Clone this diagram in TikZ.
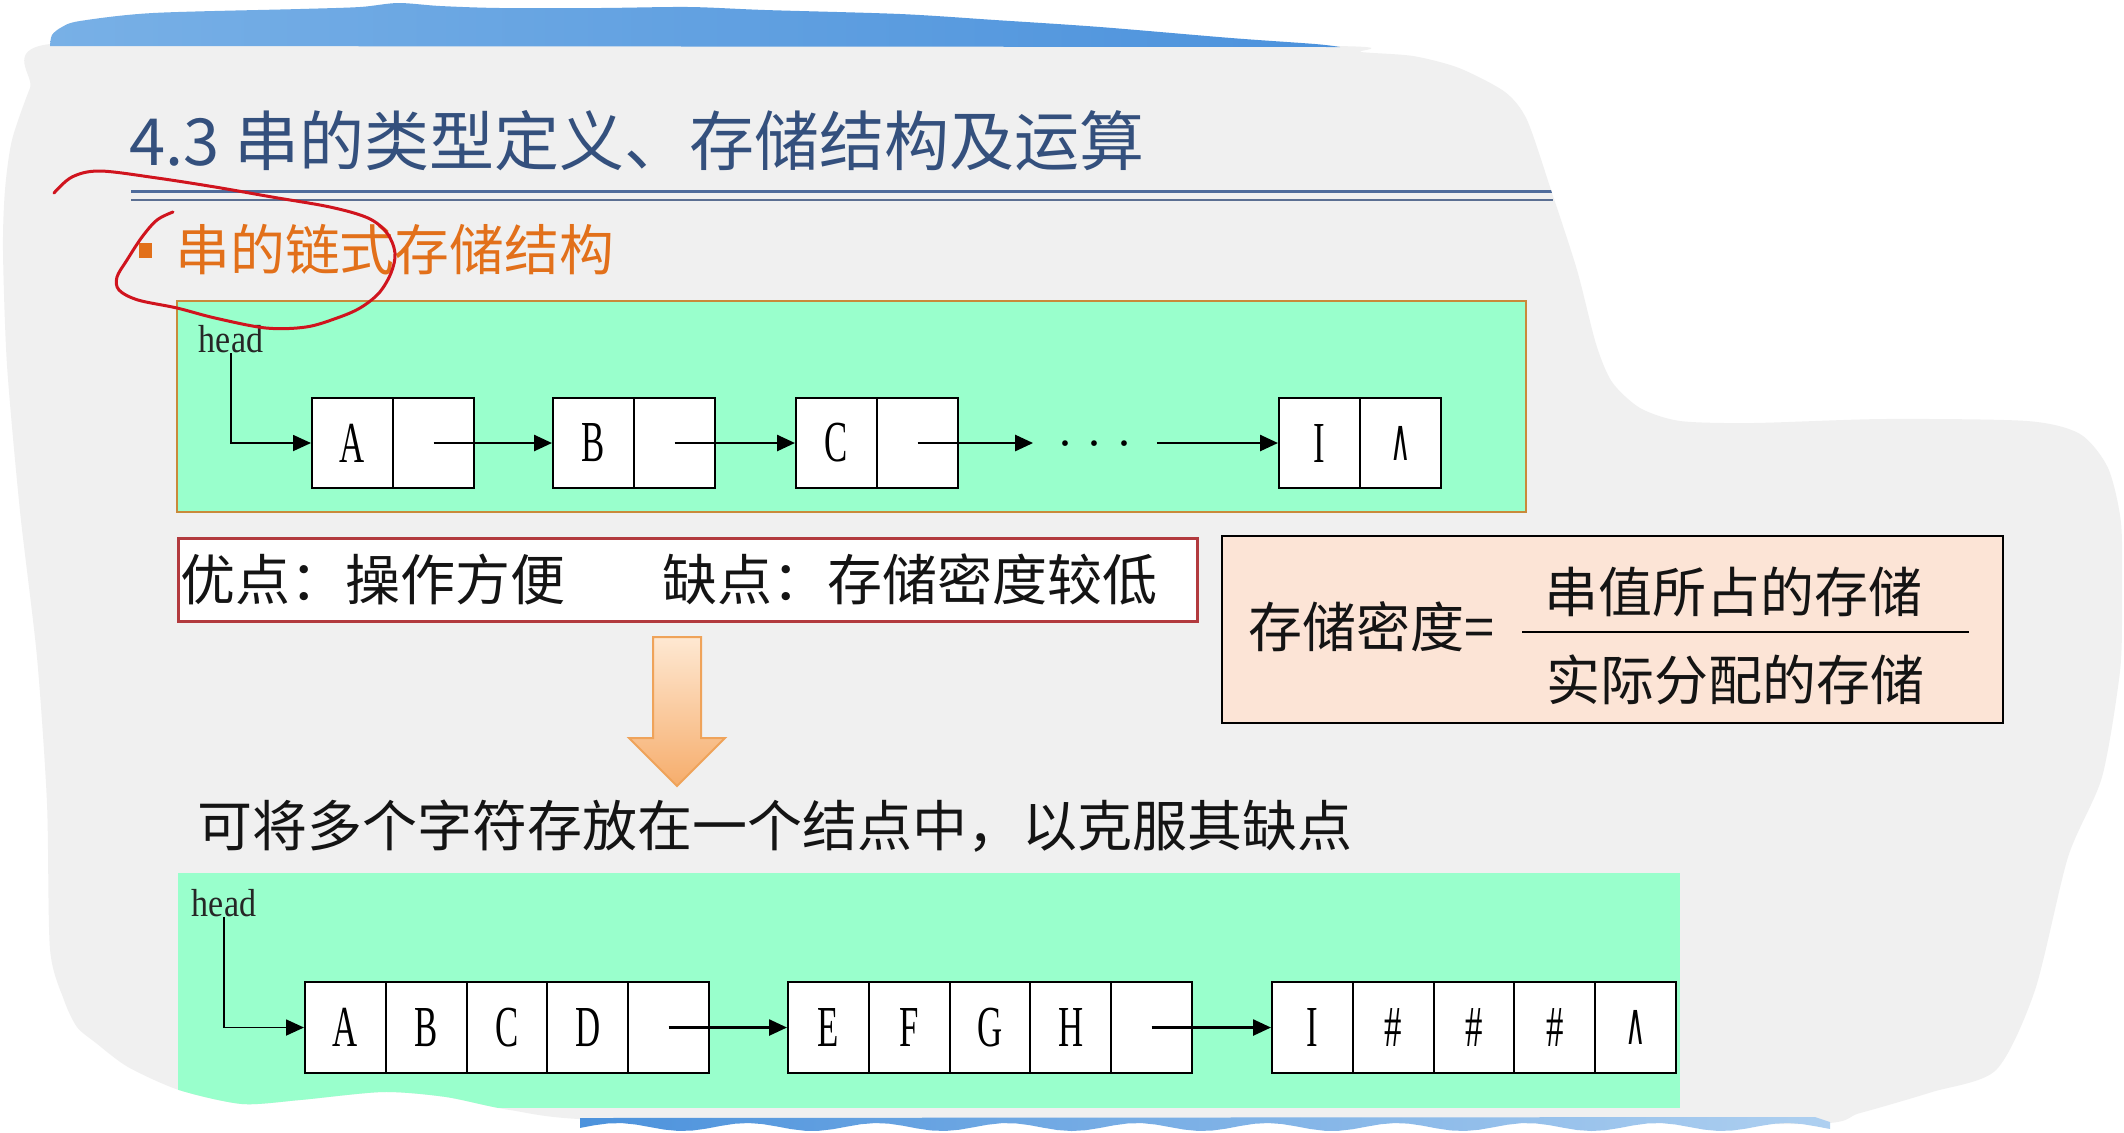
\documentclass[tikz,border=0pt]{standalone}
\usepackage{fontspec}
\usepackage{graphicx}
\usetikzlibrary{arrows.meta}
\newfontfamily\cjk{Noto Sans CJK SC}
\newfontfamily\tms{Liberation Serif}
\newfontfamily\djv{DejaVu Sans}
\definecolor{slidegray}{HTML}{F0F0F0}
\definecolor{mint}{HTML}{99FFCC}
\definecolor{titleblue}{HTML}{34507D}
\definecolor{headorange}{HTML}{E2701A}
\definecolor{loopred}{HTML}{D0141E}
\definecolor{boxborder}{HTML}{C98A3A}
\definecolor{prosred}{HTML}{B23A3E}
\definecolor{peach}{HTML}{FCE4D6}
\definecolor{bandL}{HTML}{78B0E6}
\definecolor{bandR}{HTML}{4C92DC}
\definecolor{rule1}{HTML}{4F6C9C}
\definecolor{rule2}{HTML}{5B6F92}
\definecolor{arrowfillT}{HTML}{FEE8D2}
\definecolor{arrowfillB}{HTML}{F6AD6C}
\definecolor{arrowedge}{HTML}{EFA35A}
\newcommand\celltxt[1]{\scalebox{0.6}[1]{\tms\fontsize{29pt}{29pt}\selectfont #1}}
\newcommand\nulltxt{\scalebox{0.5}[1.05]{\djv\fontsize{28pt}{28pt}\selectfont ∧}}
\begin{document}
\begin{tikzpicture}[x=0.5pt,y=-0.5pt,
  cellA/.style={draw=black,line width=1pt,fill=white,minimum width=40.5pt,minimum height=45pt,inner sep=0pt},
  cellB/.style={cellA,minimum width=40.4pt,minimum height=45.5pt},
  arr/.style={line width=1.3pt,-{Triangle[length=9pt,width=8pt]}},
  headarr/.style={line width=0.9pt,-{Triangle[length=9pt,width=8pt]}},
  headtxt/.style={font=\tms\fontsize{17pt}{17pt}\selectfont,text=black!85,inner sep=0pt},
  cjktxt/.style={font=\cjk\fontsize{27.5pt}{27.5pt}\selectfont,inner sep=0pt,anchor=west,text=black!92}]
\useasboundingbox (0,0) rectangle (2124,1132);
\fill[white] (0,0) rectangle (2124,1132);
\begin{scope}
\clip plot[smooth cycle,tension=0.45] coordinates {(50,44) (400,44) (800,44) (1335,46) (1361,52) (1413,56) (1459,68) (1505,92) (1527,120) (1551,190) (1577,270) (1596,344) (1612,382) (1640,408) (1680,421) (1753,423) (1884,419) (2027,421) (2080,434) (2108,468) (2121,523) (2122,600) (2120,671) (2102,777) (2068,857) (2035,990) (1996,1070) (1932,1092) (1860,1113) (1810,1124) (1500,1121) (1000,1121) (606,1120) (510,1110) (446,1097) (383,1092) (300,1100) (242,1104) (179,1090) (128,1067) (96,1043) (77,1027) (64,1000) (50,949) (47,803) (37,657) (20,511) (7,365) (3,250) (5,190) (12,140) (30,88)};
\fill[slidegray] (0,0) rectangle (2124,1132);
% title
\node[font=\cjk\fontsize{32.5pt}{32.5pt}\selectfont,text=titleblue,inner sep=0pt,anchor=west] (title) at (129,141) {4.3 串的类型定义、存储结构及运算};
\draw[rule1,line width=1.5pt] (131,191) -- (1553,191);
\draw[rule2,line width=0.7pt] (131,200) -- (1553,200);
% heading
\node[fill=headorange,minimum width=6.5pt,minimum height=7.5pt,inner sep=0pt] (bullet) at (145,250) {};
\node[font=\cjk\fontsize{27.4pt}{27.4pt}\selectfont,text=headorange,inner sep=0pt,anchor=west] (heading) at (175,250) {串的链式存储结构};
% green box 1
\filldraw[fill=mint,draw=boxborder,line width=1pt] (177,301) rectangle (1526,512);
\node[headtxt] (h1) at (231,339) {\scalebox{1}[1.15]{head}};
\node[cellA] (a1) at (352.5,443) {\celltxt{A}};
\node[cellA] (a2) at (433.5,443) {};
\node[cellA] (b1) at (593.5,443) {\celltxt{B}};
\node[cellA] (b2) at (674.5,443) {};
\node[cellA] (c1) at (836.5,443) {\celltxt{C}};
\node[cellA] (c2) at (917.5,443) {};
\node[cellA] (i1) at (1319.5,443) {\celltxt{I}};
\node[cellA] (i2) at (1400.5,443) {\nulltxt};
\node[inner sep=0pt,minimum width=61.5pt,minimum height=10pt,font=\tms\fontsize{24pt}{24pt}\selectfont] (dots) at (1095,443) {\raisebox{-8pt}[0pt][0pt]{·\hspace{7pt}·\hspace{7pt}·}\hspace{8pt}};
\draw[headarr] (h1.south) |- (a1.west);
\draw[arr] (a2.center) -- (b1.west);
\draw[arr] (b2.center) -- (c1.west);
\draw[arr] (c2.center) -- (dots.west);
\draw[arr] (dots.east) -- (i1.west);
% pros / cons
\draw[prosred,fill=white,line width=1.5pt] (178,538) rectangle (1197,621);
\node[cjktxt] (pros) at (180,579) {优点：操作方便};
\node[cjktxt] (cons) at (662,579) {缺点：存储密度较低};
% formula
\filldraw[fill=peach,draw=black,line width=1.2pt] (1222,536) rectangle (2003,723);
\node[cjktxt,font=\cjk\fontsize{27pt}{27pt}\selectfont] (lhs) at (1248,627) {存储密度=};
\node[cjktxt,font=\cjk\fontsize{27pt}{27pt}\selectfont,anchor=center] (num) at (1733,592) {串值所占的存储};
\node[cjktxt,font=\cjk\fontsize{27pt}{27pt}\selectfont,anchor=center] (den) at (1735,680) {实际分配的存储};
\coordinate (fl) at (1522,632);
\coordinate (fr) at (1969,632);
\draw[line width=1.2pt] (fl) -- (fr);
% orange arrow
\shadedraw[top color=arrowfillT,bottom color=arrowfillB,draw=arrowedge,line width=1pt] (653,637) -- (701,637) -- (701,738) -- (725,738) -- (677,786) -- (629,738) -- (653,738) -- cycle;
\node[cjktxt] (remedy) at (197,826) {可将多个字符存放在一个结点中，以克服其缺点};
% green box 2
\fill[mint] (178,873) rectangle (1680,1108);
\node[headtxt] (h2) at (224,903) {\scalebox{1}[1.15]{head}};
\node[cellB] (p1) at (345.4,1027.5) {\celltxt{A}};
\node[cellB] (p2) at (426.2,1027.5) {\celltxt{B}};
\node[cellB] (p3) at (507,1027.5) {\celltxt{C}};
\node[cellB] (p4) at (587.8,1027.5) {\celltxt{D}};
\node[cellB] (p5) at (668.6,1027.5) {};
\node[cellB] (q1) at (828.4,1027.5) {\celltxt{E}};
\node[cellB] (q2) at (909.2,1027.5) {\celltxt{F}};
\node[cellB] (q3) at (990,1027.5) {\celltxt{G}};
\node[cellB] (q4) at (1070.8,1027.5) {\celltxt{H}};
\node[cellB] (q5) at (1151.6,1027.5) {};
\node[cellB] (r1) at (1312.4,1027.5) {\celltxt{I}};
\node[cellB] (r2) at (1393.2,1027.5) {\celltxt{\#}};
\node[cellB] (r3) at (1474,1027.5) {\celltxt{\#}};
\node[cellB] (r4) at (1554.8,1027.5) {\celltxt{\#}};
\node[cellB] (r5) at (1635.6,1027.5) {\nulltxt};
\draw[headarr] (h2.south) |- (p1.west);
\draw[arr] (p5.center) -- (q1.west);
\draw[arr] (q5.center) -- (r1.west);
% red hand-drawn loop
\draw[loopred,line width=1.5pt,line cap=round,line join=round] plot[smooth,tension=0.55] coordinates {(54,193) (72,177) (100,171) (157,178) (215,187) (272,197) (330,207) (368,218) (387,233) (395,253) (391,273) (379,293) (360,308) (337,318) (306,327) (266,328) (215,318) (177,308) (138,300) (119,290) (117,277) (127,260) (142,237) (157,220) (173,212)};
\end{scope}
% top band
\shade[left color=bandL,right color=bandR] plot[smooth,tension=0.5] coordinates {(50,46) (52,35) (62,27) (80,21) (153,13) (300,9) (360,7) (398,3) (440,6) (500,8) (600,8) (689,7) (765,10) (900,14) (995,20) (1100,27) (1231,38) (1315,44) (1340,47)} -- cycle;
% bottom band
\shade[left color=bandR,right color=bandL!60] (580,1118) -- (1815,1117) -- (1830,1122) -- plot[domain=1830:580,samples=90] (\x,{1127+4*sin(\x*2.77)}) -- cycle;
\end{tikzpicture}
\end{document}
